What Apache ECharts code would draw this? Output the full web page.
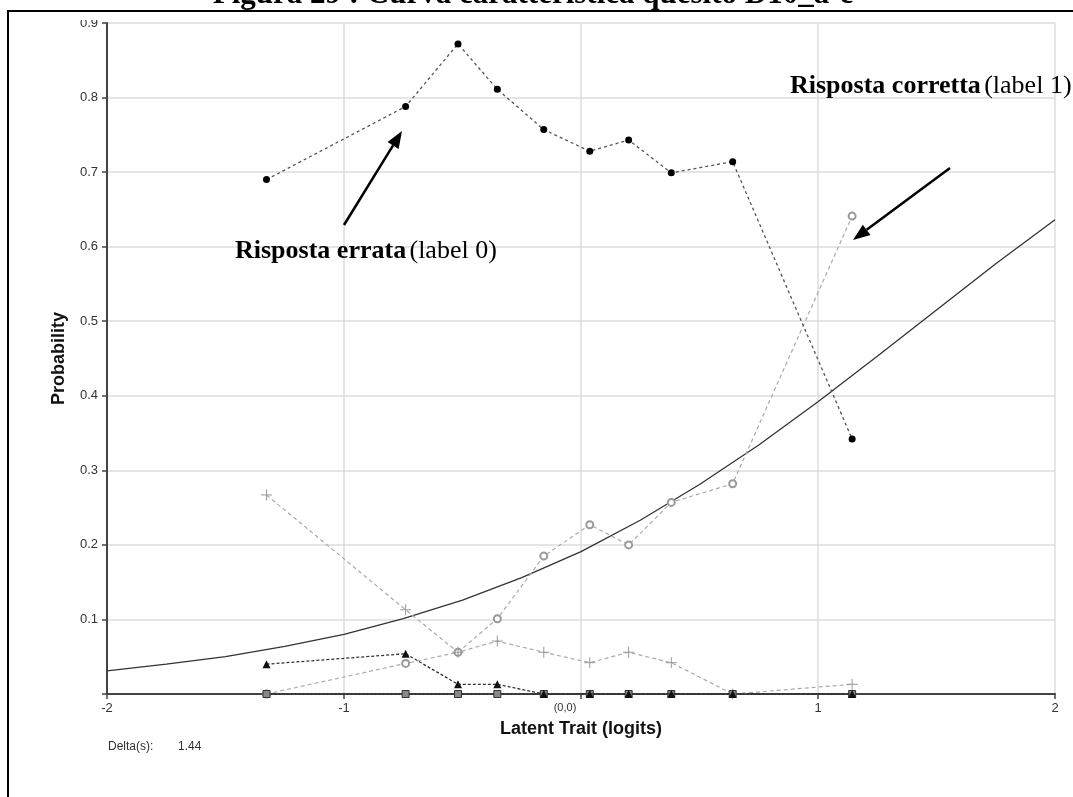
<!DOCTYPE html>
<html>
<head>
<meta charset="utf-8">
<script src="https://cdn.jsdelivr.net/npm/echarts@6/dist/echarts.min.js"></script>
<style>
  html, body { margin: 0; padding: 0; background: #fff; }
  #grafico { width: 1073px; height: 797px; }
</style>
</head>
<body>
<div id="grafico"></div>
<script>
// Posizioni dei gruppi di abilità (logit)
const gruppiX = [-1.327, -0.740, -0.519, -0.353, -0.157, 0.037, 0.201, 0.381, 0.640, 1.144];

// Proporzioni osservate per ogni categoria
const label0 = [0.690, 0.788, 0.872, 0.811, 0.757, 0.728, 0.743, 0.699, 0.714, 0.342];
const label1 = [0.000, 0.041, 0.056, 0.101, 0.185, 0.227, 0.200, 0.257, 0.282, 0.641];
const labelPiu = [0.267, 0.113, 0.056, 0.071, 0.056, 0.042, 0.056, 0.042, 0.000, 0.013];
const labelTri = [0.040, 0.054, 0.013, 0.013, 0.000, 0.000, 0.000, 0.000, 0.000, 0.000];
const labelQuad = [0, 0, 0, 0, 0, 0, 0, 0, 0, 0];

// Curva del modello
const modelloX = [-2, -1.75, -1.5, -1.25, -1, -0.75, -0.5, -0.25, 0, 0.25, 0.5, 0.75, 1, 1.25, 1.5, 1.75, 2];
const modelloY = [0.031, 0.040, 0.050, 0.064, 0.080, 0.101, 0.126, 0.156, 0.191, 0.233, 0.281, 0.334, 0.392, 0.453, 0.515, 0.577, 0.636];

// Tacche degli assi
const xTacche = { min: -2, max: 2, interval: 1 };
const yTacche = { min: 0, max: 0.9, interval: 0.1 };

const coppie = (xs, ys) => xs.map((x, i) => [x, ys[i]]);

// Freccia di annotazione (coordinate in pixel)
function freccia(x1, y1, x2, y2) {
  const dx = x2 - x1, dy = y2 - y1;
  const len = Math.sqrt(dx * dx + dy * dy);
  const ux = dx / len, uy = dy / len;
  const bx = x2 - ux * 17, by = y2 - uy * 17;
  const nx = -uy * 6.5, ny = ux * 6.5;
  return [
    { type: 'line', shape: { x1: x1, y1: y1, x2: bx, y2: by }, style: { stroke: '#000', lineWidth: 2.5 }, z: 100 },
    { type: 'polygon', shape: { points: [[x2, y2], [bx + nx, by + ny], [bx - nx, by - ny]] }, style: { fill: '#000' }, z: 100 }
  ];
}

const fontSerif = '"Liberation Serif", "Times New Roman", serif';
const fontSans = 'Arial, "Liberation Sans", sans-serif';

const chart = echarts.init(document.getElementById('grafico'));

chart.setOption({
  animation: false,
  grid: { left: 107, right: 18, top: 23, bottom: 103 },
  xAxis: {
    type: 'value',
    min: xTacche.min, max: xTacche.max, interval: xTacche.interval,
    name: 'Latent Trait (logits)',
    nameLocation: 'middle',
    nameGap: 25,
    nameTextStyle: { fontFamily: fontSans, fontWeight: 'bold', fontSize: 18, color: '#111' },
    axisLine: { onZero: false, lineStyle: { color: '#444', width: 2 } },
    axisTick: { show: true, length: 5, lineStyle: { color: '#444', width: 1.5 } },
    axisLabel: {
      margin: 8,
      fontFamily: fontSans, fontSize: 13, color: '#333',
      formatter: v => v === 0 ? '{z|(0,0)}' : String(v),
      rich: { z: { fontSize: 11, color: '#333', padding: [0, 32, 4, 0] } }
    },
    splitLine: { show: true, lineStyle: { color: '#dcdcdc', width: 1.5 } }
  },
  yAxis: {
    type: 'value',
    min: yTacche.min, max: yTacche.max, interval: yTacche.interval,
    name: 'Probability',
    nameLocation: 'middle',
    nameGap: 39,
    nameTextStyle: { fontFamily: fontSans, fontWeight: 'bold', fontSize: 18, color: '#111' },
    axisLine: { show: true, onZero: false, lineStyle: { color: '#444', width: 2 } },
    axisTick: { show: true, length: 5, lineStyle: { color: '#444', width: 1.5 } },
    axisLabel: {
      margin: 9,
      fontFamily: fontSans, fontSize: 13, color: '#333',
      formatter: v => v === 0 ? '' : v.toFixed(1)
    },
    splitLine: { show: true, lineStyle: { color: '#dcdcdc', width: 1.5 } }
  },
  series: [
    {
      name: 'Modello', type: 'line', data: coppie(modelloX, modelloY),
      showSymbol: false, smooth: false,
      lineStyle: { color: '#333', width: 1.3 }, z: 3
    },
    {
      name: 'label 1', type: 'line', data: coppie(gruppiX, label1),
      symbol: 'emptyCircle', symbolSize: 7,
      itemStyle: { color: '#999', borderWidth: 1 },
      lineStyle: { color: '#aaa', width: 1.2, type: [4, 3] }, z: 4
    },
    {
      name: 'label +', type: 'line', data: coppie(gruppiX, labelPiu),
      symbol: 'path://M0,5L10,5M5,0L5,10', symbolSize: 11,
      itemStyle: { color: '#999', borderColor: '#999', borderWidth: 1 },
      lineStyle: { color: '#aaa', width: 1.2, type: [4, 3] }, z: 4
    },
    {
      name: 'label 0', type: 'line', data: coppie(gruppiX, label0),
      symbol: 'circle', symbolSize: 7,
      itemStyle: { color: '#000' },
      lineStyle: { color: '#555', width: 1.3, type: [3, 3] }, z: 5
    },
    {
      name: 'label quadrati', type: 'line', data: coppie(gruppiX, labelQuad),
      symbol: 'rect', symbolSize: 7,
      itemStyle: { color: '#888', borderColor: '#333', borderWidth: 1 },
      lineStyle: { color: '#333', width: 2, type: [2, 2] }, z: 6
    },
    {
      name: 'label triangoli', type: 'line', data: coppie(gruppiX, labelTri),
      symbol: 'triangle', symbolSize: 8,
      itemStyle: { color: '#111' },
      lineStyle: { color: '#333', width: 1.3, type: [3, 2] }, z: 7
    }
  ],
  graphic: [
    // cornice della figura
    { type: 'rect', shape: { x: 8, y: 11, width: 1200, height: 900 }, style: { fill: 'none', stroke: '#000', lineWidth: 2 }, z: 50 },
    // titolo tagliato in alto
    {
      type: 'text', x: 533, y: 10,
      style: {
        text: 'Figura 29 : Curva caratteristica quesito D10_a-c',
        font: 'bold 31px ' + fontSerif,
        fill: '#000', align: 'center', verticalAlign: 'bottom'
      }, z: 40
    },
    // copertura per l'etichetta 0.9 tagliata
    { type: 'rect', shape: { x: 40, y: 12, width: 62, height: 8 }, style: { fill: '#fff' }, z: 45 },
    {
      type: 'text', x: 108, y: 747,
      style: { text: 'Delta(s):', font: '12px ' + fontSans, fill: '#333', verticalAlign: 'middle' }
    },
    {
      type: 'text', x: 178, y: 747,
      style: { text: '1.44', font: '12px ' + fontSans, fill: '#333', verticalAlign: 'middle' }
    },
    {
      type: 'text', x: 235, y: 251,
      style: {
        text: '{b|Risposta errata} {n|(label 0)}',
        rich: {
          b: { font: 'bold 26px ' + fontSerif, fill: '#000' },
          n: { font: '26px ' + fontSerif, fill: '#000' }
        },
        verticalAlign: 'middle'
      }, z: 60
    },
    {
      type: 'text', x: 790, y: 86,
      style: {
        text: '{b|Risposta corretta} {n|(label 1)}',
        rich: {
          b: { font: 'bold 26px ' + fontSerif, fill: '#000' },
          n: { font: '26px ' + fontSerif, fill: '#000' }
        },
        verticalAlign: 'middle'
      }, z: 60
    },
    ...freccia(344, 225, 402, 131),
    ...freccia(950, 168, 853, 240)
  ]
});
</script>
</body>
</html>
